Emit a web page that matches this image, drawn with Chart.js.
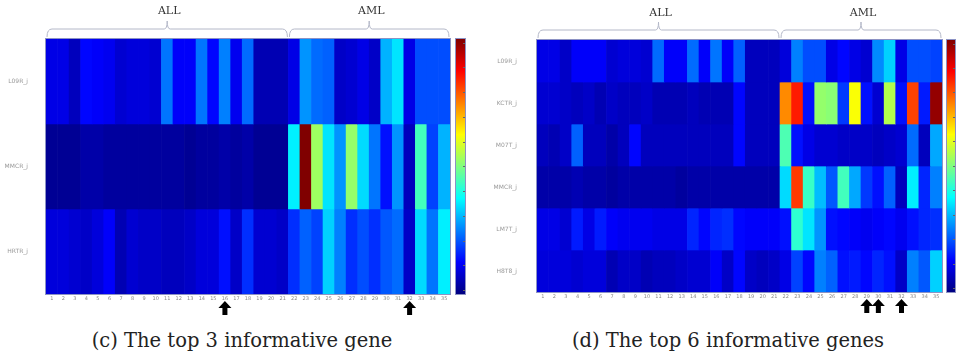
<!DOCTYPE html>
<html>
<head>
<meta charset="utf-8">
<script src="https://cdn.jsdelivr.net/npm/chart.js@4.4.0/dist/chart.umd.min.js"></script>
<style>
  body { margin: 0; background: #fff; }
  #wrap { position: relative; width: 960px; height: 363px; overflow: hidden; }
  canvas { position: absolute; top: 0; }
  .cap { position: absolute; top: 331px; width: 480px; text-align: center;
         font-family: "DejaVu Serif", serif; font-size: 19.5px; line-height: 20px; color: #222; }
</style>
</head>
<body>
<div id="wrap">
  <canvas id="heat3" width="480" height="320" style="left:0"></canvas>
  <canvas id="heat6" width="480" height="320" style="left:480px"></canvas>
  <div class="cap" style="left:2px">(c) The top 3 informative gene</div>
  <div class="cap" style="left:488px">(d) The top 6 informative genes</div>
</div>
<script>
// samples (columns), ALL = 1..21, AML = 22..35
const samples = ['1','2','3','4','5','6','7','8','9','10','11','12','13','14','15','16','17','18','19','20','21',
                 '22','23','24','25','26','27','28','29','30','31','32','33','34','35']
const groups = [{ name: 'ALL', from: 0, to: 20 }, { name: 'AML', from: 21, to: 34 }]

// start: top 3 genes (normalised expression, 0..1)
const genes3 = ['L09R_j', 'MMCR_j', 'HRTR_j']
const L09R_3 = [0.10,0.10,0.06,0.13,0.12,0.11,0.08,0.09,0.09,0.08,0.24,0.12,0.12,0.24,0.13,0.25,0.11,0.23,0.05,0.05,0.05,
                0.10,0.27,0.23,0.22,0.07,0.08,0.10,0.07,0.30,0.35,0.10,0.20,0.20,0.20]
const MMCR_3 = [0.02,0.02,0.02,0.04,0.04,0.03,0.03,0.03,0.03,0.03,0.03,0.03,0.02,0.03,0.03,0.04,0.03,0.04,0.02,0.02,0.02,
                0.36,1.00,0.53,0.35,0.27,0.52,0.34,0.24,0.14,0.27,0.06,0.44,0.19,0.30]
const HRTR_3 = [0.09,0.09,0.08,0.07,0.09,0.12,0.05,0.08,0.07,0.07,0.06,0.06,0.07,0.09,0.09,0.14,0.07,0.17,0.08,0.08,0.07,
                0.17,0.22,0.19,0.33,0.25,0.17,0.20,0.17,0.21,0.23,0.07,0.34,0.24,0.36]
const arrows3 = [16, 32]
// end: top 3 genes

// start: top 6 genes
const genes6 = ['L09R_j', 'KCTR_j', 'M07T_j', 'MMCR_j', 'LM7T_j', 'H8T8_j']
const L09R_6 = [0.10,0.10,0.07,0.12,0.12,0.12,0.08,0.09,0.09,0.08,0.23,0.12,0.12,0.23,0.12,0.24,0.12,0.22,0.06,0.06,0.06,
                0.09,0.25,0.20,0.20,0.10,0.13,0.10,0.08,0.26,0.33,0.10,0.20,0.20,0.19]
const KCTR_6 = [0.08,0.08,0.07,0.06,0.07,0.05,0.07,0.06,0.06,0.07,0.05,0.05,0.05,0.06,0.05,0.05,0.05,0.13,0.06,0.06,0.06,
                0.74,0.85,0.14,0.52,0.51,0.18,0.62,0.14,0.08,0.55,0.14,0.81,0.15,0.98]
const M07T_6 = [0.06,0.05,0.07,0.22,0.06,0.06,0.04,0.06,0.13,0.06,0.06,0.06,0.06,0.06,0.06,0.06,0.06,0.13,0.06,0.06,0.06,
                0.45,0.14,0.10,0.08,0.08,0.07,0.07,0.07,0.06,0.07,0.08,0.23,0.06,0.29]
const MMCR_6 = [0.04,0.04,0.04,0.05,0.04,0.04,0.03,0.04,0.04,0.04,0.04,0.04,0.03,0.04,0.04,0.04,0.04,0.04,0.04,0.04,0.04,
                0.34,0.82,0.43,0.31,0.21,0.44,0.29,0.18,0.14,0.22,0.06,0.36,0.16,0.25]
const LM7T_6 = [0.10,0.10,0.08,0.15,0.10,0.15,0.12,0.11,0.11,0.11,0.10,0.10,0.10,0.16,0.13,0.16,0.17,0.13,0.12,0.12,0.12,
                0.14,0.42,0.35,0.27,0.14,0.13,0.12,0.11,0.12,0.13,0.11,0.14,0.16,0.17]
const H8T8_6 = [0.09,0.09,0.09,0.08,0.09,0.09,0.05,0.07,0.07,0.05,0.06,0.06,0.07,0.08,0.08,0.12,0.07,0.13,0.07,0.06,0.07,
                0.10,0.19,0.13,0.25,0.22,0.14,0.15,0.13,0.16,0.14,0.07,0.25,0.21,0.33]
const arrows6 = [29, 30, 32]
// end: top 6 genes

// jet colormap
function jet(v) {
    const c = (x) => Math.round(255 * Math.max(0, Math.min(1, x)))
    return 'rgb(' + c(1.5 - Math.abs(4 * v - 3)) + ',' + c(1.5 - Math.abs(4 * v - 2)) + ',' + c(1.5 - Math.abs(4 * v - 1)) + ')'
}

// braces, arrows, colorbar and frame
const decorPlugin = {
    id: 'decor',
    afterDraw(chart, args, opts) {
        const ctx = chart.ctx
        const area = chart.chartArea
        const x = chart.scales.x
        const half = (x.getPixelForValue(1) - x.getPixelForValue(0)) / 2

        // frame
        ctx.save()
        ctx.strokeStyle = '#8c92c4'
        ctx.lineWidth = 1
        ctx.strokeRect(area.left - 0.5, area.top - 0.5, area.right - area.left + 1, area.bottom - area.top + 1)

        // group braces
        ctx.strokeStyle = '#b4b8c8'
        ctx.lineWidth = 1
        ctx.fillStyle = '#333'
        ctx.font = '11px "DejaVu Serif", serif'
        ctx.textAlign = 'center'
        ctx.textBaseline = 'middle'
        groups.forEach((g) => {
            const x0 = x.getPixelForValue(g.from) - half + 1
            const x1 = x.getPixelForValue(g.to) + half - 1
            const xm = (x0 + x1) / 2
            const yl = opts.braceY, yb = yl + 8, yt = yl - 8
            ctx.beginPath()
            ctx.moveTo(x0, yb)
            ctx.quadraticCurveTo(x0, yl, x0 + 5, yl)
            ctx.lineTo(xm - 3, yl)
            ctx.quadraticCurveTo(xm, yl, xm, yt)
            ctx.quadraticCurveTo(xm, yl, xm + 3, yl)
            ctx.lineTo(x1 - 5, yl)
            ctx.quadraticCurveTo(x1, yl, x1, yb)
            ctx.stroke()
            ctx.fillText(g.name, xm + 2, opts.labelY)
        })

        // sample numbers under the columns
        ctx.fillStyle = '#8a8a8a'
        ctx.font = '5px "DejaVu Sans", sans-serif'
        ctx.textBaseline = 'top'
        samples.forEach((s, i) => ctx.fillText(s, x.getPixelForValue(i), area.bottom + 2))

        // arrows under the selected samples
        ctx.fillStyle = '#000'
        opts.arrows.forEach((s) => {
            const cx = x.getPixelForValue(s - 1)
            const yTip = area.bottom + 7
            ctx.beginPath()
            ctx.moveTo(cx, yTip)
            ctx.lineTo(cx + 6.5, yTip + 7)
            ctx.lineTo(cx + 2.5, yTip + 7)
            ctx.lineTo(cx + 2.5, yTip + 14)
            ctx.lineTo(cx - 2.5, yTip + 14)
            ctx.lineTo(cx - 2.5, yTip + 7)
            ctx.lineTo(cx - 6.5, yTip + 7)
            ctx.closePath()
            ctx.fill()
        })

        // colorbar
        const cbX = area.right + opts.cbGap, cbW = opts.cbW
        const grad = ctx.createLinearGradient(0, area.bottom, 0, area.top)
        for (let i = 0; i <= 8; i++) grad.addColorStop(i / 8, jet(i / 8))
        ctx.fillStyle = grad
        ctx.fillRect(cbX, area.top, cbW, area.bottom - area.top)
        ctx.strokeStyle = '#8c92c4'
        ctx.strokeRect(cbX - 0.5, area.top - 0.5, cbW + 1, area.bottom - area.top + 1)
        ctx.strokeStyle = '#666'
        for (let i = 0; i <= 10; i++) {
            const ty = Math.round(area.bottom - (area.bottom - area.top) * (i / 10) * 0.97 - 4) + 0.5
            ctx.beginPath()
            ctx.moveTo(cbX + cbW - 2, ty)
            ctx.lineTo(cbX + cbW, ty)
            ctx.stroke()
        }
        ctx.restore()
    }
}

function heatmap(canvasId, genes, rows, opts) {
    return new Chart(document.getElementById(canvasId), {
        type: 'bar',
        data: {
            labels: samples,
            datasets: rows.map((vals, r) => ({
                label: genes[r],
                data: vals.map(() => 1),
                backgroundColor: vals.map(jet),
                borderWidth: 0,
                barPercentage: 1,
                categoryPercentage: 1
            }))
        },
        options: {
            responsive: false,
            animation: false,
            devicePixelRatio: 1,
            layout: { padding: { left: 0, right: opts.padRight, top: opts.padTop, bottom: opts.padBottom } },
            plugins: {
                legend: { display: false },
                tooltip: { enabled: false },
                decor: opts
            },
            scales: {
                x: {
                    stacked: true,
                    grid: { display: false },
                    border: { display: false },
                    ticks: { display: false },
                    afterFit: (s) => { s.height = 7 }
                },
                y: {
                    stacked: true,
                    reverse: true,
                    min: 0,
                    max: genes.length,
                    grid: { display: false },
                    border: { display: false },
                    afterBuildTicks: (s) => { s.ticks = genes.map((g, i) => ({ value: i + 0.5 })) },
                    ticks: { padding: opts.labelPad, color: '#999', font: { size: 6, family: 'DejaVu Sans' },
                             callback: (v) => genes[Math.floor(v)] },
                    afterFit: (s) => { s.width = opts.axisW }
                }
            }
        },
        plugins: [decorPlugin]
    })
}

heatmap('heat3', genes3, [L09R_3, MMCR_3, HRTR_3], {
    axisW: 46, labelPad: 10, padRight: 30, padTop: 39, padBottom: 19,
    braceY: 29, labelY: 11, arrows: arrows3, cbGap: 6, cbW: 9
})
heatmap('heat6', genes6, [L09R_6, KCTR_6, M07T_6, MMCR_6, LM7T_6, H8T8_6], {
    axisW: 57, labelPad: 12, padRight: 18, padTop: 40, padBottom: 21,
    braceY: 30, labelY: 13, arrows: arrows6, cbGap: 5, cbW: 8
})
</script>
</body>
</html>
